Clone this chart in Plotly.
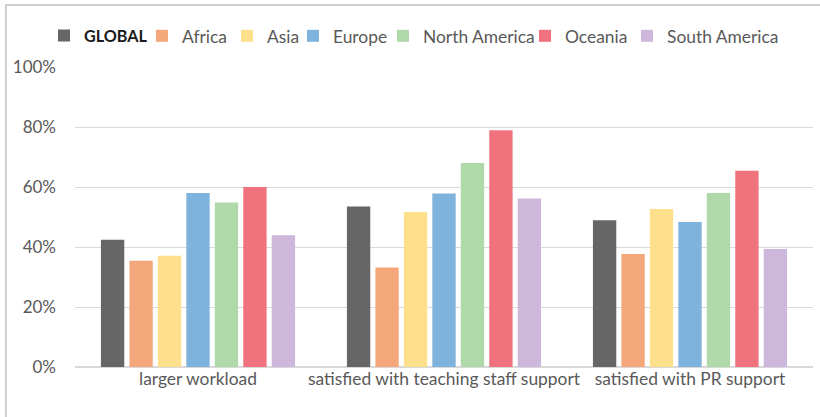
import plotly.graph_objects as go

categories = ["larger workload", "satisfied with teaching staff support", "satisfied with PR support"]
series_names = ["GLOBAL", "Africa", "Asia", "Europe", "North America", "Oceania", "South America"]
global_vals = [42.4, 53.5, 48.9]
africa_vals = [35.4, 33.2, 37.7]
asia_vals = [37.1, 51.7, 52.7]
europe_vals = [58.0, 57.8, 48.3]
north_america_vals = [54.8, 68.0, 58.0]
oceania_vals = [60.0, 78.9, 65.4]
south_america_vals = [43.9, 56.2, 39.3]
y_tickvals = [0, 20, 40, 60, 80, 100]
y_ticktext = ["0%", "20%", "40%", "60%", "80%", "100%"]

colors = ["#666666", "#F4A77A", "#FDDF8C", "#7EB3DD", "#B0D9AA", "#F0727C", "#CDB7DA"]
all_vals = [global_vals, africa_vals, asia_vals, europe_vals, north_america_vals, oceania_vals, south_america_vals]
# legend text start positions (px) for each entry
legend_text_x = [85, 178, 263, 329, 419, 561, 663]
legend_nudge = [-1, 4, 4, 4, 4, 4, 4]

FONT = "Lato, 'Open Sans', sans-serif"
FS = 17.4
W, H = 820, 417
L, R, T, B = 75, 7, 67, 50
pw, ph = W - L - R, H - T - B

fig = go.Figure()
legend_layouts = {}
for i, (name, vals, col) in enumerate(zip(series_names, all_vals, colors)):
    lname = "legend" if i == 0 else f"legend{i + 1}"
    label = "<b>GLOBAL</b>" if name == "GLOBAL" else name
    fig.add_trace(go.Bar(
        x=categories, y=vals, name=label, legend=lname, showlegend=True,
        marker=dict(color=col, line=dict(width=0)),
    ))
    legend_layouts[lname] = dict(
        orientation="h", x=(legend_text_x[i] - 40 + legend_nudge[i] - L) / pw, xanchor="left",
        y=(H - B - 36) / ph, yanchor="middle",
        font=dict(family=FONT, size=16.2 if i == 0 else FS,
                  color="#1A1A1A" if i == 0 else "#595959"),
        itemwidth=30,
        bgcolor="rgba(0,0,0,0)", borderwidth=0, visible=True,
    )

fig.update_layout(
    width=W, height=H,
    showlegend=True,
    margin=dict(l=L, r=R, t=T, b=B, autoexpand=False),
    paper_bgcolor="white", plot_bgcolor="white",
    barmode="group", bargap=0.19, bargroupgap=0.18,
    font=dict(family=FONT, size=FS, color="#595959"),
    xaxis=dict(showgrid=False, showline=False, ticks="", tickfont=dict(size=FS, color="#595959")),
    yaxis=dict(range=[0, 100], tickvals=y_tickvals, ticktext=y_ticktext,
               gridcolor="#D9D9D9", gridwidth=1, zeroline=True, zerolinecolor="#D9D9D9",
               showline=False, ticks="", ticklabelstandoff=18,
               tickfont=dict(size=17, color="#595959")),
    shapes=[dict(type="rect", xref="paper", yref="paper",
                 x0=(6 - L) / pw, x1=(W + 10 - L) / pw,
                 y0=(H - B - (H + 10)) / ph, y1=(H - B - 5) / ph,
                 line=dict(color="#D0D0D0", width=2), fillcolor="rgba(0,0,0,0)", layer="below")],
    **legend_layouts,
)

fig.write_html("out.html", config={"displayModeBar": False},
               post_script="document.body.style.margin='0';document.body.style.padding='0';")
